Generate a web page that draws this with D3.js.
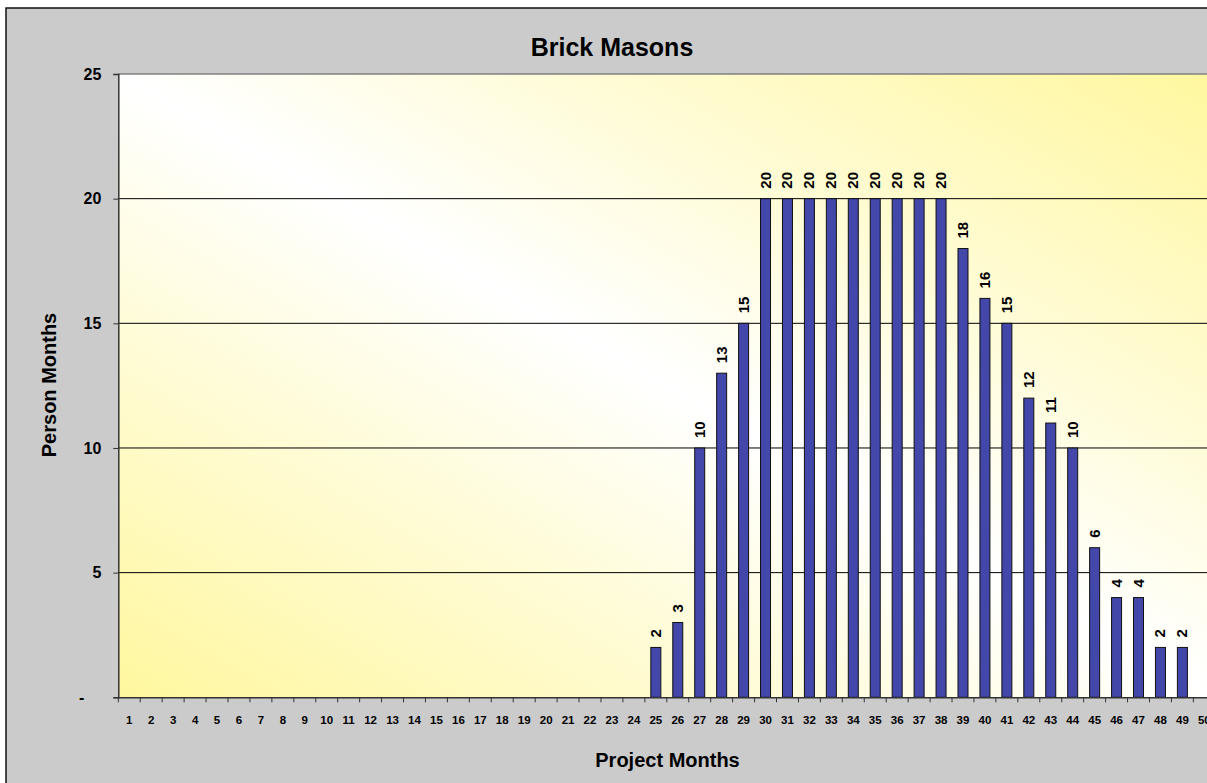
<!DOCTYPE html>
<html><head><meta charset="utf-8">
<script src="https://cdn.jsdelivr.net/npm/d3@7"></script>
<style>html,body{margin:0;padding:0;background:#fff;overflow:hidden}</style>
</head><body>
<script>
const months = d3.range(1, 51).map(String);
const values = [null,null,null,null,null,null,null,null,null,null,
  null,null,null,null,null,null,null,null,null,null,
  null,null,null,null,2,3,10,13,15,20,
  20,20,20,20,20,20,20,20,18,16,
  15,12,11,10,6,4,4,2,2,null];
const yTicks = [0,5,10,15,20,25];
const yTickLabels = ["-","5","10","15","20","25"];
const title = "Brick Masons";
const yTitle = "Person Months";
const xTitle = "Project Months";

(function () {
const W = 1207, H = 783;
const font = "'Liberation Sans', Arial, sans-serif";
const svg = d3.select("body").append("svg").attr("width", W).attr("height", H);

// outer chart frame
svg.append("rect").attr("x", 6).attr("y", 8).attr("width", 1300).attr("height", 900)
  .attr("fill", "#cbcbcb").attr("stroke", "#111").attr("stroke-width", 1.5);

const pLeft = 118.3, pTop = 74, pBottom = 697.3;
const bandW = 21.94;
const pRight = pLeft + bandW * months.length;

const x = d3.scaleBand().domain(months).range([pLeft, pRight]).paddingInner(0).paddingOuter(0);
const y = d3.scaleLinear().domain([0, 25]).range([pBottom, pTop]);

const defs = svg.append("defs");
const grad = defs.append("linearGradient").attr("id", "bg")
  .attr("x1", 0).attr("y1", 1).attr("x2", 1).attr("y2", 0);
grad.append("stop").attr("offset", 0).attr("stop-color", "#fff79e");
grad.append("stop").attr("offset", 0.5).attr("stop-color", "#ffffff");
grad.append("stop").attr("offset", 1).attr("stop-color", "#fff79e");

svg.append("rect").attr("x", pLeft).attr("y", pTop).attr("width", pRight - pLeft).attr("height", pBottom - pTop)
  .attr("fill", "url(#bg)");
svg.append("line").attr("x1", pLeft).attr("x2", pRight).attr("y1", pTop).attr("y2", pTop)
  .attr("stroke", "#808080").attr("stroke-width", 1.5);

// gridlines
svg.append("g").selectAll("line").data(yTicks.filter(d => d > 0 && d < 25)).join("line")
  .attr("x1", pLeft).attr("x2", pRight).attr("y1", d => y(d)).attr("y2", d => y(d))
  .attr("stroke", "#000").attr("stroke-width", 1);

// bars
const data = months.map((m, i) => ({m, v: values[i]}));
const bw = 10;
svg.append("g").selectAll("rect").data(data.filter(d => d.v != null)).join("rect")
  .attr("x", d => x(d.m) + x.bandwidth() / 2 - bw / 2)
  .attr("y", d => y(d.v))
  .attr("width", bw)
  .attr("height", d => y(0) - y(d.v))
  .attr("fill", "#4247a9").attr("stroke", "#111").attr("stroke-width", 1);

// bar labels
svg.append("g").selectAll("text").data(data.filter(d => d.v != null)).join("text")
  .attr("transform", d => `translate(${x(d.m) + x.bandwidth() / 2 + 5},${y(d.v) - 10}) rotate(-90)`)
  .attr("font-family", font).attr("font-weight", "bold").attr("font-size", 15)
  .attr("fill", "#000")
  .text(d => d.v);

// y axis
const yAxis = d3.axisLeft(y).tickValues(yTicks).tickSize(5).tickFormat((d, i) => yTickLabels[i]).tickPadding(12);
const gy = svg.append("g").attr("transform", `translate(${pLeft},0)`).call(yAxis);
gy.select(".domain").attr("stroke", "#333").attr("stroke-width", 1.5);
gy.selectAll(".tick line").attr("stroke", "#333");
gy.selectAll("text").attr("font-family", font).attr("font-weight", "bold").attr("font-size", 16).attr("fill", "#000");
gy.selectAll(".tick").filter(d => d === 0).select("text").attr("x", -34);

// x axis
const xAxis = d3.axisBottom(x).tickSize(0).tickPadding(19);
const gx = svg.append("g").attr("transform", `translate(0,${pBottom})`).call(xAxis);
gx.select(".domain").attr("stroke", "#333").attr("stroke-width", 1.5);
gx.selectAll("text").attr("font-family", font).attr("font-weight", "bold").attr("font-size", 11.5).attr("fill", "#000");
// category boundary ticks
gx.append("g").selectAll("line").data(d3.range(0, months.length + 1)).join("line")
  .attr("x1", i => pLeft + i * x.step()).attr("x2", i => pLeft + i * x.step())
  .attr("y1", 0).attr("y2", 5).attr("stroke", "#333").attr("stroke-width", 1);

// titles
svg.append("text").attr("x", 612).attr("y", 56).attr("text-anchor", "middle")
  .attr("font-family", font).attr("font-weight", "bold").attr("font-size", 25).text(title);
svg.append("text").attr("transform", "translate(55.5,385) rotate(-90)").attr("text-anchor", "middle")
  .attr("font-family", font).attr("font-weight", "bold").attr("font-size", 20).text(yTitle);
svg.append("text").attr("x", 667.5).attr("y", 766.5).attr("text-anchor", "middle")
  .attr("font-family", font).attr("font-weight", "bold").attr("font-size", 20).text(xTitle);
})();
</script>
</body></html>
